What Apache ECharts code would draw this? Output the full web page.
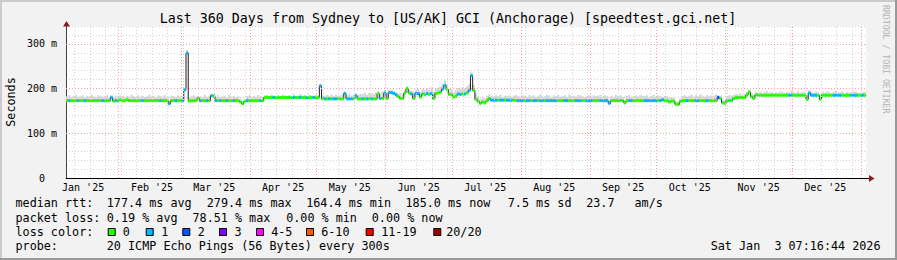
<!DOCTYPE html>
<html><head><meta charset="utf-8">
<script src="https://cdn.jsdelivr.net/npm/echarts@6/dist/echarts.min.js"></script>
<style>
html,body{margin:0;padding:0;background:#f2f2f2;}
#wrap{position:relative;width:897px;height:260px;overflow:hidden;}
#chart{position:absolute;left:0;top:0;width:897px;height:260px;}
.f{position:absolute;pointer-events:none;}
</style></head><body>
<div id="wrap"><div id="chart"></div>
<div class="f" style="left:0;top:0;width:897px;height:2px;background:#cbcbcb"></div>
<div class="f" style="left:0;top:0;width:2px;height:260px;background:#cbcbcb"></div>
<div class="f" style="left:0;top:258px;width:897px;height:2px;background:#999999"></div>
<div class="f" style="left:895px;top:0;width:2px;height:260px;background:#999999"></div>
</div>
<script>
// ---------- data ----------
const titleText = "Last 360 Days from Sydney to [US/AK] GCI (Anchorage) [speedtest.gci.net]";
const startDate = '2025-01-08T07:16:44Z';
const numDays = 360;
// daily median rtt (ms)
const median = [
173,173,173,173,173,173,173,173,173,173,173,173,173,173,173,173,173,173,173,173,
180,172,173,173,175,173,173,175,173,173,173,173,173,173,173,173,173,173,173,173,
173,173,173,173,173,173,166,173,173,173,173,173,173,197,279.4,172,173,173,173,178,
173,173,173,173,173,184,183,173,173,173,173,173,173,173,173,173,173,173,170,166,
171,173,173,173,173,173,173,173,173,180,180,180,180,180,180,180,180,180,180,180,
180,180,180,180,180,180,180,180,180,180,180,180,180,180,206,177,177,177,177,177,
177,177,177,177,177,189,177,177,177,177,184,177,177,177,177,177,177,177,177,177,
188,178,178,190,178,191,191,189,186,182,178,178,190,200,190,188,178,189,189,181,
188,186,189,187,189,178,189,190,192,199,207,198,187,186,181,183,188,187,188,188,
190,196,229,196,176,171,167,170,168,173,178,174,174,174,174,174,174,174,174,174,
174,174,173,173,173,173,173,173,173,173,173,173,173,173,173,173,173,173,173,173,
173,173,173,173,173,173,173,173,173,173,173,173,173,173,173,173,173,173,173,173,
173,173,173,173,167,173,173,173,173,173,173,168,173,173,173,173,173,173,173,173,
173,173,173,173,173,173,173,173,175,173,173,170,172,172,165,164.4,171,173,173,173,
173,173,173,173,173,173,173,173,173,173,173,173,173,180,178,168,167,173,173,173,
178,180,180,180,180,180,186,192,182,178,186,185,185,185,185,185,185,185,185,185,
185,185,185,185,185,185,185,185,185,185,185,185,185,176,190,185,185,185,185,176,
185,185,185,185,185,185,185,185,185,185,185,185,185,185,185,185,185,185,185,185
];
// daily lost pings (of 20)
const loss = [
0,1,0,0,0,1,0,0,1,0,0,0,0,0,0,0,1,0,0,0,
1,0,1,0,0,0,0,0,0,0,0,0,0,0,1,0,0,0,0,0,
0,0,1,0,0,0,1,0,0,1,0,0,1,1,1,0,0,0,0,0,
1,0,0,1,0,1,0,1,0,1,0,0,1,0,0,1,0,0,0,0,
0,1,0,0,0,0,0,1,0,0,0,0,0,1,0,0,0,0,0,0,
0,0,1,0,0,1,0,0,1,0,0,1,0,0,1,0,1,0,1,0,
1,1,0,0,0,1,1,1,1,0,1,0,0,1,0,1,0,1,0,0,
0,1,0,1,0,1,1,1,1,0,0,0,0,0,0,1,0,1,1,0,
0,0,1,0,1,0,0,0,0,1,1,0,0,0,0,0,1,1,0,1,
0,1,1,0,0,0,0,0,0,0,0,1,1,1,0,1,1,0,1,1,
1,0,0,1,1,1,0,1,1,0,1,1,0,1,1,0,1,1,1,1,
1,0,0,0,1,1,0,0,0,1,1,1,0,0,1,1,1,0,0,0,
1,1,1,1,1,0,0,0,0,0,0,0,0,1,1,0,0,0,0,0,
1,1,1,1,1,1,0,1,1,0,0,0,0,0,0,0,0,0,0,1,
0,0,0,1,1,0,0,0,1,0,0,0,0,2,0,0,0,0,0,0,
0,0,0,0,0,0,0,0,0,0,0,0,0,0,0,0,0,0,0,0,
0,0,0,0,0,1,1,0,0,0,0,0,0,0,1,1,1,1,0,0,
0,0,0,0,0,1,1,1,1,0,0,0,0,1,1,1,0,0,1,0
];
// daily top of the smoke (ms)
const smokeTop = [
183,185,181,184,186,182,183,185,180,184,182,186,183,181,185,184,182,183,186,181,
186,180,184,182,185,183,181,184,182,186,183,180,185,182,184,181,183,186,182,184,
181,185,183,182,186,180,172,184,183,181,185,182,184,201,286,180,183,185,182,184,
183,181,186,182,184,188,187,182,185,181,184,183,180,186,182,184,181,183,176,172,
177,183,185,181,184,182,186,183,181,185,186,184,187,185,183,186,184,187,185,183,
186,184,187,183,185,188,184,186,183,187,185,184,186,185,211,185,183,186,184,187,
183,186,184,185,187,194,185,188,184,186,189,185,188,187,190,186,191,189,188,192,
196,190,193,197,191,198,197,195,192,190,189,188,196,205,197,195,192,198,199,193,
199,196,201,197,203,193,200,202,205,211,218,209,199,198,192,196,201,199,203,200,
205,210,238,208,190,182,176,180,178,184,188,184,182,185,183,186,181,184,183,185,
182,184,186,183,181,185,184,182,186,183,185,181,184,187,182,183,186,184,181,185,
183,186,182,184,185,181,187,183,184,182,186,185,183,181,184,186,182,185,183,184,
186,182,185,183,172,184,181,186,183,185,182,174,184,186,181,183,185,182,186,184,
183,185,181,184,186,182,185,183,181,184,183,180,181,180,171,171,178,183,185,182,
184,186,182,185,183,187,184,182,186,183,185,184,187,186,184,175,174,183,185,184,
186,188,187,189,186,188,192,197,190,186,193,191,193,190,192,194,191,193,190,192,
191,194,192,190,193,191,195,192,190,194,191,193,192,185,196,193,191,194,192,184,
193,191,194,192,190,193,195,191,192,194,190,193,191,192,194,193,191,190,192,193
];
const monthStarts = ['2025-02-01','2025-03-01','2025-04-01','2025-05-01','2025-06-01','2025-07-01','2025-08-01','2025-09-01','2025-10-01','2025-11-01','2025-12-01','2026-01-01'];
const monthLabelDates = ['2025-01-16','2025-02-16','2025-03-16','2025-04-16','2025-05-16','2025-06-16','2025-07-16','2025-08-16','2025-09-16','2025-10-16','2025-11-16','2025-12-16'];
const monthLabels = ["Jan '25","Feb '25","Mar '25","Apr '25","May '25","Jun '25","Jul '25","Aug '25","Sep '25","Oct '25","Nov '25","Dec '25"];
const firstWeekLine = '2025-01-12';
const yMajor = [100, 200, 300];
const lossNames = ['0','1','2','3','4-5','6-10','11-19','20/20'];
const lossColors = ['#26ff00','#00b8ff','#0059ff','#7e00ff','#ff00ff','#ff5500','#ff0000','#a10000'];
const statsMedian = ['median rtt:','177.4 ms avg','279.4 ms max','164.4 ms min','185.0 ms now','7.5 ms sd','23.7','am/s'];
const statsLoss = ['packet loss:','0.19 % avg','78.51 % max','0.00 % min','0.00 % now'];
const probeText = ['probe:','20 ICMP Echo Pings (56 Bytes) every 300s'];
const dateText = 'Sat Jan  3 07:16:44 2026';
const watermark = 'RRDTOOL / TOBI OETIKER';

// ---------- build ----------
const DAY = 86400000;
const t0 = Date.parse(startDate);
const t1 = t0 + numDays * DAY;
const sampleT = median.map((v, i) => t0 + (i + 0.5) * DAY);
function lossLevel(n){ if(n<=3) return n; if(n<=5) return 4; if(n<=10) return 5; if(n<=19) return 6; return 7; }
const rows = median.map((v, i) => [sampleT[i], v, loss[i], smokeTop[i]]);
const weekLines = [];
for (let t = Date.parse(firstWeekLine); t < t1; t += 7 * DAY) if (t > t0) weekLines.push({xAxis: t});
const monthLineData = monthStarts.map(d => ({xAxis: Date.parse(d)})).filter(o => o.xAxis < t1);
const labelVals = monthLabelDates.map(d => Date.parse(d));

const MONO = "'DejaVu Sans Mono', monospace";
const chart = echarts.init(document.getElementById('chart'), null, {renderer: 'svg'});

function txt(text, x, y, opt) {
  opt = opt || {};
  return {type: 'text', x: x, y: y, rotation: opt.rotation || 0, silent: true, z: 100,
    style: {text: text, fill: opt.fill || '#000', font: (opt.size || 11.75) + 'px ' + MONO,
      textAlign: opt.align || 'left', align: opt.align || 'left',
      textVerticalAlign: 'middle', verticalAlign: 'middle'}};
}

const graphics = [];
graphics.push(txt(titleText, 448, 18, {size: 13.3, align: 'center'}));
graphics.push(txt('Seconds', 11, 102, {align: 'center', rotation: Math.PI / 2}));
graphics.push(txt(watermark, 886, 5, {size: 8.2, fill: '#b4b4b4', rotation: -Math.PI / 2}));
const medX = [15.5, 106.8, 206.8, 306.2, 405.5, 507.8, 586.2, 634.5];
statsMedian.forEach((s, i) => graphics.push(txt(s, medX[i], 203.3)));
const lossX = [15.5, 106.8, 192.5, 286.2, 371.8];
statsLoss.forEach((s, i) => graphics.push(txt(s, lossX[i], 217.5)));
graphics.push(txt('loss color:', 15.5, 231.6));
const boxX = [107.7, 145.7, 182.3, 219, 256, 306, 365.7, 433.3];
const boxLabX = [122.8, 161.2, 197.8, 234.5, 271.2, 321.2, 381.2, 446.2];
lossNames.forEach((s, i) => {
  graphics.push({type: 'rect', silent: true, z: 100, shape: {x: boxX[i] + 0.5, y: 228.5, width: 7, height: 7},
    style: {fill: lossColors[i], stroke: '#000', lineWidth: 1}});
  graphics.push(txt(s, boxLabX[i], 231.6));
});
graphics.push(txt(probeText[0], 15.5, 245.7));
graphics.push(txt(probeText[1], 106.8, 245.7));
graphics.push(txt(dateText, 880.5, 245.7, {align: 'right'}));

const gridStyle = {color: '#d2d2d2', type: [1, 2], width: 1};
const majorStyle = {color: '#f2a0a0', type: [1, 2], width: 1};

const option = {
  animation: false,
  backgroundColor: 'transparent',
  grid: {left: 66, top: 26, width: 800, height: 152, show: true, backgroundColor: '#ffffff', borderWidth: 0},
  xAxis: {
    type: 'value', min: t0, max: t1, scale: true,
    axisLine: {show: true, lineStyle: {color: '#000', width: 1}},
    axisTick: {show: false},
    splitLine: {show: false},
    axisLabel: {
      customValues: labelVals, showMinLabel: true, showMaxLabel: true, hideOverlap: false,
      color: '#000', fontFamily: MONO, fontSize: 10, margin: 4,
      formatter: function (v) { const k = labelVals.indexOf(v); return k >= 0 ? monthLabels[k] : ''; }
    }
  },
  yAxis: {
    type: 'value', min: 0, max: 340, interval: 20,
    axisLine: {show: true, lineStyle: {color: '#404040', width: 1}},
    axisTick: {show: false},
    splitLine: {show: true, lineStyle: gridStyle},
    axisLabel: {
      color: '#000', fontFamily: MONO, fontSize: 10, margin: 9,
      formatter: function (v) { if (v % 100 !== 0) return ''; return v === 0 ? '{z|0}' : v + ' m'; },
      rich: {z: {fontFamily: MONO, fontSize: 10, color: '#000', padding: [0, 12, 0, 0]}}
    }
  },
  series: [
    { // grid lines
      type: 'line', data: [], silent: true, z: 1,
      markLine: {silent: true, symbol: ['none', 'none'], label: {show: false}, animation: false,
        lineStyle: gridStyle, data: weekLines}
    },
    {
      type: 'line', data: [], silent: true, z: 1,
      markLine: {silent: true, symbol: ['none', 'none'], label: {show: false}, animation: false,
        lineStyle: majorStyle,
        data: monthLineData.concat(yMajor.map(v => ({yAxis: v})))}
    },
    { // smoke
      type: 'custom', z: 2, silent: true, data: rows,
      renderItem: function (params, api) {
        const t = api.value(0), m = api.value(1), top = api.value(3);
        const a = api.coord([t - DAY / 2, top]);
        const b = api.coord([t + DAY / 2, m]);
        return {type: 'rect', shape: {x: a[0], y: a[1], width: b[0] - a[0], height: b[1] - a[1]},
          style: {fill: '#d6d6d6'}};
      }
    },
    { // median (black connector)
      type: 'line', z: 3, silent: true, step: 'middle', symbol: 'none',
      data: rows.map(r => [r[0], r[1]]),
      lineStyle: {color: '#202020', width: 1}
    },
    { // median coloured by loss
      type: 'custom', z: 4, silent: true, data: rows,
      renderItem: function (params, api) {
        const t = api.value(0), m = api.value(1), l = api.value(2);
        const a = api.coord([t - DAY / 2, m]);
        const b = api.coord([t + DAY / 2, m]);
        return {type: 'rect', shape: {x: a[0], y: a[1] - 1.5, width: b[0] - a[0], height: 3},
          style: {fill: lossColors[lossLevel(l)]}};
      }
    }
  ],
  graphic: graphics
};
chart.setOption(option);

// axis arrows
const o = chart.convertToPixel({gridIndex: 0}, [t1, 0]);
const p = chart.convertToPixel({gridIndex: 0}, [t0, 340]);
const arrowColor = '#8a1c1c';
graphics.push({type: 'line', silent: true, z: 99, shape: {x1: o[0], y1: o[1] + 0.5, x2: o[0] + 4, y2: o[1] + 0.5}, style: {stroke: '#000', lineWidth: 1}});
graphics.push({type: 'polygon', silent: true, z: 99, shape: {points: [[o[0] + 3, o[1] - 3], [o[0] + 8.5, o[1] + 0.5], [o[0] + 3, o[1] + 4]]}, style: {fill: arrowColor}});
graphics.push({type: 'polygon', silent: true, z: 99, shape: {points: [[p[0] - 3, p[1] + 0.5], [p[0] + 0.5, p[1] - 5], [p[0] + 4, p[1] + 0.5]]}, style: {fill: arrowColor}});
chart.setOption({graphic: graphics});
</script>
</body></html>
